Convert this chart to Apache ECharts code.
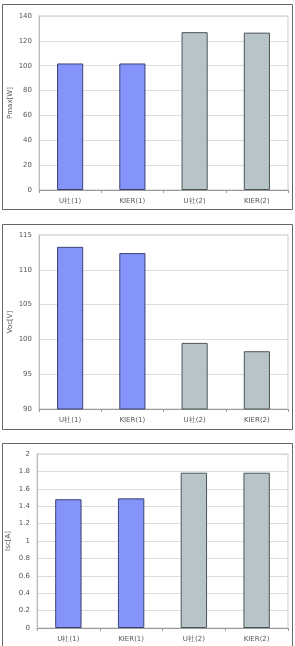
<!DOCTYPE html>
<html>
<head>
<meta charset="utf-8">
<script src="https://cdn.jsdelivr.net/npm/echarts@6/dist/echarts.min.js"></script>
<style>
  html, body { margin: 0; padding: 0; background: #fff; }
  #chart { width: 295px; height: 646px; }
</style>
</head>
<body>
<div id="chart"></div>
<script>
// data
var categories = ["U社(1)", "KIER(1)", "U社(2)", "KIER(2)"];
var pmaxValues = [101.8, 101.8, 127, 126.6];
var vocValues = [113.3, 112.4, 99.5, 98.3];
var iscValues = [1.48, 1.49, 1.785, 1.785];
var barColors = ["#8494fb", "#8494fb", "#b8c5c8", "#b8c5c8"];

var myecharts = echarts.init(document.getElementById("chart"));

// one panel = grid + axes + bar series
var grids = [
  { left: 39, right: 7, top: 16, height: 174 },
  { left: 39, right: 7, top: 235, height: 174 },
  { left: 37, right: 7, top: 454, height: 174 },
];
var yConf = [
  { name: "Pmax[W]", min: 0, max: 140, interval: 20 },
  { name: "Voc[V]", min: 90, max: 115, interval: 5 },
  { name: "Isc[A]", min: 0, max: 2, interval: 0.2 },
];
var seriesData = [pmaxValues, vocValues, iscValues];

var labelStyle = { color: "#555", fontSize: 7, fontFamily: "DejaVu Sans" };

var xAxes = [], yAxes = [], series = [];
for (var i = 0; i < 3; i++) {
  xAxes.push({
    type: "category",
    gridIndex: i,
    data: categories,
    axisLine: { lineStyle: { color: "#999" } },
    axisTick: { show: true, length: 3, lineStyle: { color: "#999" } },
    axisLabel: Object.assign({ margin: 8 }, labelStyle),
  });
  yAxes.push({
    type: "value",
    gridIndex: i,
    min: yConf[i].min,
    max: yConf[i].max,
    interval: yConf[i].interval,
    name: yConf[i].name,
    nameLocation: "middle",
    nameGap: 25,
    nameMoveOverlap: false,
    nameTextStyle: labelStyle,
    axisLine: { show: true, lineStyle: { color: "#bbb" } },
    axisTick: { show: false },
    axisLabel: Object.assign({ margin: 7 }, labelStyle),
    splitLine: { lineStyle: { color: "#dcdcdc" } },
  });
  series.push({
    type: "bar",
    xAxisIndex: i,
    yAxisIndex: i,
    barWidth: "42%",
    data: seriesData[i].map(function (v, k) {
      return {
        value: v,
        itemStyle: {
          color: barColors[k],
          borderColor: k < 2 ? "#3a4270" : "#4a5558",
          borderWidth: 1,
        },
      };
    }),
  });
}

myecharts.setOption({
  animation: false,
  grid: grids.map(function (g) {
    return Object.assign({ show: true, borderColor: "#c8c8c8", borderWidth: 1, outerBoundsMode: "none" }, g);
  }),
  xAxis: xAxes,
  yAxis: yAxes,
  series: series,
  graphic: [
    { type: "rect", shape: { x: 2.5, y: 4.5, width: 290, height: 205 }, style: { fill: null, stroke: "#666", lineWidth: 1 } },
    { type: "rect", shape: { x: 2.5, y: 224.5, width: 290, height: 205 }, style: { fill: null, stroke: "#666", lineWidth: 1 } },
    { type: "rect", shape: { x: 2.5, y: 443.5, width: 290, height: 210 }, style: { fill: null, stroke: "#666", lineWidth: 1 } },
  ],
});
</script>
</body>
</html>
